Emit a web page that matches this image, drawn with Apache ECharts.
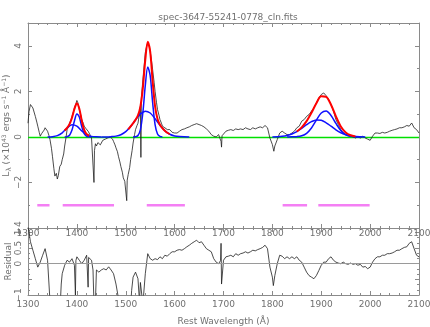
<!DOCTYPE html>
<html>
<head>
<meta charset="utf-8">
<script src="https://cdn.jsdelivr.net/npm/echarts@6/dist/echarts.min.js"></script>
<style>
  html, body { margin: 0; padding: 0; background: #fff; }
  #chart { width: 430px; height: 327px; }
</style>
</head>
<body>
<div id="chart"></div>
<script>
// spectrum (top panel)
const specWave = [1300,1302,1305,1308,1310,1313,1315,1318,1320,1323,1325,1328,1330,1333,1335,1338,1340,1343,1345,1348,
  1350,1353,1355,1358,1360,1362,1365,1368,1370,1373,1375,1378,1380,1383,1385,1388,1390,1393,1395,1398,
  1400,1402,1405,1408,1410,1413,1415,1418,1420,1423,1425,1428,1430,1433,1435,1436,1438,1440,1443,1445,
  1448,1450,1453,1455,1458,1460,1463,1465,1468,1470,1473,1475,1478,1480,1483,1485,1488,1490,1493,1495,
  1498,1500,1502,1503,1505,1508,1510,1513,1515,1518,1520,1523,1525,1528,1530,1531,1532,1535,1538,1540,
  1543,1545,1548,1550,1553,1555,1558,1560,1563,1565,1568,1570,1573,1575,1578,1580,1585,1590,1595,1600,
  1605,1610,1615,1620,1625,1630,1635,1640,1645,1650,1655,1660,1665,1670,1675,1680,1685,1690,1695,1696,
  1697,1700,1705,1710,1715,1720,1725,1730,1735,1740,1745,1750,1755,1760,1765,1770,1775,1780,1785,1790,
  1795,1800,1803,1805,1810,1815,1820,1825,1830,1835,1840,1845,1850,1855,1860,1865,1870,1875,1880,1885,
  1890,1895,1900,1905,1910,1915,1920,1925,1930,1935,1940,1945,1950,1955,1960,1965,1970,1975,1980,1985,
  1990,1995,2000,2005,2010,2015,2020,2025,2030,2035,2040,2045,2050,2055,2060,2065,2070,2075,2080,2085,
  2090,2095,2100];
const specFlux = [0.6,1.1,1.42,1.35,1.27,1.05,0.9,0.65,0.47,0.2,0.03,0.15,0.1,0.3,0.4,0.35,0.25,0.05,-0.12,-0.5,
  -0.85,-1.4,-1.72,-1.6,-1.85,-1.7,-1.3,-1.2,-1.0,-0.75,-0.4,0.0,0.32,0.45,0.6,0.75,0.9,1.1,1.27,1.45,
  1.6,1.5,1.2,0.95,0.76,0.6,0.47,0.38,0.3,0.25,0.17,0.05,-0.05,-0.1,-2.0,-0.6,-0.3,-0.4,-0.25,-0.27,
  -0.35,-0.3,-0.15,-0.2,-0.1,-0.12,-0.05,-0.08,0.0,-0.05,-0.1,-0.2,-0.35,-0.48,-0.65,-0.85,-1.1,-1.3,-1.55,-1.8,
  -1.95,-2.0,-2.8,-1.9,-1.65,-1.35,-1.0,-0.6,-0.27,0.1,0.32,0.5,0.6,1.0,1.35,-0.9,1.7,2.5,3.2,3.7,
  4.0,4.1,4.0,3.75,3.3,2.95,2.4,2.0,1.5,1.2,0.95,0.76,0.6,0.47,0.45,0.4,0.32,0.32,0.2,0.17,
  0.17,0.25,0.32,0.35,0.4,0.44,0.5,0.54,0.58,0.54,0.5,0.44,0.35,0.25,0.1,0.03,0.0,0.1,-0.2,-0.45,
  0.05,0.1,0.25,0.29,0.32,0.28,0.35,0.32,0.35,0.32,0.4,0.35,0.32,0.4,0.35,0.4,0.44,0.4,0.5,0.4,
  -0.05,-0.34,-0.63,-0.4,-0.12,0.17,0.25,0.17,0.1,0.1,0.17,0.25,0.4,0.47,0.69,0.76,0.9,0.98,1.13,1.27,
  1.49,1.71,1.86,1.93,1.81,1.64,1.42,1.13,0.76,0.54,0.32,0.17,0.1,0.06,0.03,0.0,-0.05,0.0,-0.05,0.03,
  -0.05,-0.1,-0.15,0.03,0.17,0.17,0.15,0.2,0.17,0.2,0.25,0.29,0.32,0.35,0.4,0.4,0.44,0.5,0.47,0.61,
  0.4,0.32,0.17];

// gaussian components (blue) and their sums (red)
const c1Wave = [1340,1350,1360,1370,1380,1390,1400,1410,1420,1430,1440,1450];
const c1Flux = [0.0,0.01,0.055,0.18,0.39,0.535,0.47,0.26,0.095,0.022,0.005,0.0];
const c2Wave = [1375,1380,1385,1390,1395,1400,1405,1410,1415,1420,1425,1430];
const c2Flux = [0.0,0.011,0.075,0.3,0.7,1.01,0.87,0.45,0.14,0.026,0.003,0.0];
const c3Wave = [1450,1460,1470,1480,1490,1500,1510,1520,1530,1540,1550,1560,1570,1580,1590,1600,1610,1620,1630];
const c3Flux = [0.0,0.0,0.01,0.033,0.096,0.23,0.455,0.745,1.01,1.13,1.05,0.8,0.51,0.27,0.117,0.042,0.013,0.003,0.0];
const c4Wave = [1515,1520,1525,1530,1535,1540,1545,1550,1555,1560,1565,1570,1575];
const c4Flux = [0.0,0.005,0.06,0.32,1.06,2.26,3.07,2.69,1.51,0.54,0.125,0.02,0.0];
const c5Wave = [1830,1840,1850,1860,1870,1880,1890,1900,1910,1920,1930,1940,1950,1960,1970,1980];
const c5Flux = [0.0,0.002,0.011,0.047,0.156,0.39,0.735,1.05,1.14,0.94,0.59,0.28,0.1,0.027,0.006,0.0];
const c6Wave = [1800,1810,1820,1830,1840,1850,1860,1870,1880,1890,1900,1910,1920,1930,1940,1950,1960,1970,1980,1990];
const c6Flux = [0.0,0.009,0.025,0.06,0.125,0.23,0.375,0.535,0.67,0.745,0.73,0.62,0.47,0.31,0.18,0.095,0.043,0.017,0.006,0.0];

const fit1Wave = [1375,1380,1385,1390,1395,1400,1405,1410,1415,1420,1425];
const fit1Flux = [0.28,0.4,0.56,0.84,1.23,1.48,1.24,0.71,0.305,0.12,0.05];
const fit2Wave = [1505,1510,1515,1520,1525,1530,1535,1540,1545,1550,1555,1560,1565,1570,1575,1580,1585,1590];
const fit2Flux = [0.33,0.46,0.6,0.75,0.95,1.33,2.15,3.39,4.18,3.74,2.45,1.34,0.79,0.53,0.38,0.27,0.18,0.12];
const fit3Wave = [1850,1860,1870,1880,1890,1900,1910,1920,1930,1940,1950,1960,1970];
const fit3Flux = [0.24,0.42,0.69,1.06,1.48,1.78,1.76,1.41,0.9,0.46,0.195,0.07,0.023];

// fitting windows (magenta), start / end wavelength
const winStart = [1319, 1371, 1543, 1821, 1894];
const winEnd = [1344, 1476, 1621, 1871, 1999];
const winLevel = -3;

// residual (bottom panel)
const resWave = [1300,1305,1310,1315,1320,1325,1330,1335,1340,1345,1350,1360,1366,1368,1370,1375,1380,1385,1390,1395,
  1397,1398,1400,1405,1410,1415,1420,1423,1424,1425,1430,1433,1435,1438,1440,1445,1450,1455,1460,1465,
  1470,1475,1480,1485,1490,1500,1510,1512,1515,1520,1525,1528,1530,1535,1540,1545,1550,1555,1560,1565,
  1570,1575,1580,1585,1590,1595,1600,1605,1610,1615,1620,1625,1630,1635,1640,1645,1650,1655,1660,1665,
  1670,1675,1680,1685,1690,1694,1695,1696,1700,1705,1710,1715,1720,1725,1730,1735,1740,1745,1750,1755,
  1760,1765,1770,1775,1780,1785,1790,1795,1800,1802,1805,1810,1815,1820,1825,1830,1835,1840,1845,1850,
  1855,1860,1865,1870,1875,1880,1885,1890,1895,1900,1905,1910,1915,1920,1925,1930,1935,1940,1945,1950,
  1955,1960,1965,1970,1975,1980,1985,1990,1995,2000,2005,2010,2015,2020,2025,2030,2035,2040,2045,2050,
  2055,2060,2065,2070,2075,2080,2085,2090,2095,2100];
const resFlux = [1.2,0.7,0.43,0.16,-0.11,0.05,0.27,0.48,0.11,-1.2,-1.6,-1.6,-1.3,-0.65,-0.32,-0.05,0.11,0.05,0.16,-0.05,
  -1.0,0.1,0.22,0.11,0.0,0.11,0.27,-0.75,0.2,0.16,0.11,-0.2,-1.3,-1.2,-0.2,-0.27,-0.2,-0.16,-0.2,-0.1,
  -0.2,-0.32,-0.65,-1.1,-1.5,-1.6,-1.4,-0.86,-0.43,-0.27,-0.48,-1.2,-0.6,-1.3,-0.32,0.32,0.16,0.11,0.16,0.13,
  0.22,0.16,0.27,0.24,0.32,0.38,0.38,0.43,0.45,0.43,0.48,0.54,0.59,0.65,0.7,0.75,0.67,0.7,0.59,0.48,
  0.43,0.38,0.16,0.05,0.0,0.1,0.65,-0.65,0.11,0.22,0.24,0.27,0.22,0.32,0.27,0.32,0.34,0.38,0.34,0.38,
  0.43,0.41,0.45,0.48,0.52,0.59,0.48,-0.11,-0.43,-0.7,-0.38,0.0,0.27,0.24,0.16,0.22,0.16,0.22,0.16,0.22,
  0.11,0.05,-0.11,-0.27,-0.38,-0.43,-0.48,-0.38,-0.22,-0.05,0.05,0.05,0.16,0.22,0.11,0.05,0.02,0.0,0.05,0.0,
  -0.02,0.02,-0.02,0.0,-0.05,-0.02,-0.11,-0.09,-0.16,-0.11,0.05,0.16,0.22,0.22,0.27,0.27,0.32,0.32,0.34,0.38,
  0.43,0.43,0.48,0.52,0.54,0.65,0.7,0.48,0.27,0.22];

const xTicks = { min: 1300, max: 2100, interval: 100 };

const axisGray = '#8a8a8a';
const textGray = '#707070';
const font = 'DejaVu Sans';

function pairs(xs, ys) {
  return xs.map((x, i) => [x, ys[i]]);
}
function minus(v) {
  return String(v).replace('-', '\u2212');
}

function makeX(grid, position, showLabel, margin, name) {
  return {
    type: 'value', gridIndex: grid, position: position,
    min: xTicks.min, max: xTicks.max, interval: xTicks.interval,
    axisLine: { show: true, onZero: false, lineStyle: { color: axisGray, width: 1 } },
    axisTick: { show: true, inside: true, length: 4, lineStyle: { color: axisGray } },
    minorTick: { show: true, splitNumber: 5, length: 2, lineStyle: { color: axisGray } },
    splitLine: { show: false },
    axisLabel: { show: showLabel, margin: margin, fontSize: 9, color: textGray, fontFamily: font,
      formatter: v => String(v) },
    name: name || '', nameLocation: 'middle', nameGap: 22, nameMoveOverlap: false,
    nameTextStyle: { fontSize: 9, color: textGray, fontFamily: font }
  };
}
function makeY(grid, position, showLabel, lim, extra) {
  return Object.assign({
    type: 'value', gridIndex: grid, position: position,
    min: lim[0], max: lim[1], interval: lim[2],
    axisLine: { show: true, onZero: false, lineStyle: { color: axisGray, width: 1 } },
    axisTick: { show: true, inside: true, length: 4, lineStyle: { color: axisGray } },
    minorTick: { show: true, splitNumber: lim[3], length: 2, lineStyle: { color: axisGray } },
    splitLine: { show: false },
    nameMoveOverlap: false,
    axisLabel: { show: showLabel, rotate: 90, margin: 5, fontSize: 9, color: textGray, fontFamily: font,
      showMinLabel: true, showMaxLabel: false, hideOverlap: false, formatter: minus }
  }, extra || {});
}

function lineSeries(xs, ys, color, width, xi, yi, z, smooth) {
  return {
    type: 'line', xAxisIndex: xi, yAxisIndex: yi, data: pairs(xs, ys),
    showSymbol: false, symbol: 'none', smooth: smooth ? 0.3 : false, z: z, silent: true,
    lineStyle: { color: color, width: width }
  };
}

const chart = echarts.init(document.getElementById('chart'), null, { renderer: 'canvas' });

const series = [];
// spectrum with zero line
const spec = lineSeries(specWave, specFlux, '#1e1e1e', 0.8, 0, 0, 3, false);
spec.markLine = {
  silent: true, symbol: 'none', label: { show: false },
  lineStyle: { color: '#00e000', width: 1.3, type: 'solid' },
  data: [{ yAxis: 0 }], z: 2
};
series.push(spec);
[[c1Wave, c1Flux], [c2Wave, c2Flux], [c3Wave, c3Flux], [c4Wave, c4Flux], [c5Wave, c5Flux], [c6Wave, c6Flux]]
  .forEach(c => series.push(lineSeries(c[0], c[1], '#1010ff', 1.5, 0, 0, 4, true)));
[[fit1Wave, fit1Flux], [fit2Wave, fit2Flux], [fit3Wave, fit3Flux]]
  .forEach(c => series.push(lineSeries(c[0], c[1], '#ff0000', 2, 0, 0, 5, true)));
winStart.forEach((s, i) => {
  series.push(lineSeries([s, winEnd[i]], [winLevel, winLevel], '#f47ff4', 2.5, 0, 0, 4, false));
});
// residual
const res = lineSeries(resWave, resFlux, '#1e1e1e', 0.8, 2, 2, 3, false);
res.markLine = {
  silent: true, symbol: 'none', label: { show: false },
  lineStyle: { color: '#9a9a9a', width: 1, type: 'solid' },
  data: [{ yAxis: 0 }]
};
series.push(res);

const option = {
  animation: false,
  backgroundColor: '#ffffff',
  title: {
    text: 'spec-3647-55241-0778_cln.fits',
    left: 223, top: 8, textAlign: 'center',
    textStyle: { fontSize: 9, fontWeight: 'normal', color: textGray, fontFamily: font }
  },
  grid: [
    { left: 28, right: 11, top: 23, height: 205, outerBoundsMode: 'none', containLabel: false },
    { left: 28, right: 11, top: 228, height: 67, outerBoundsMode: 'none', containLabel: false }
  ],
  xAxis: [
    makeX(0, 'bottom', true, 1),
    makeX(0, 'top', false, 1),
    makeX(1, 'bottom', true, 5, 'Rest Wavelength (\u00c5)'),
    makeX(1, 'top', false, 1)
  ],
  yAxis: [
    makeY(0, 'left', true, [-4, 5, 2, 2], {
      name: '{a|L}{b|\u03bb}{a| (\u00d710}{c|43}{a| ergs s}{c|\u22121}{a| \u00c5}{c|\u22121}{a|)}',
      nameLocation: 'middle', nameGap: 15,
      nameTextStyle: {
        color: textGray, fontFamily: font,
        rich: {
          a: { fontSize: 9, color: textGray, fontFamily: font, lineHeight: 12 },
          b: { fontSize: 7, color: textGray, fontFamily: font, lineHeight: 12, verticalAlign: 'bottom', padding: [4, 0, 0, 0] },
          c: { fontSize: 6, color: textGray, fontFamily: font, lineHeight: 12, verticalAlign: 'top', padding: [0, 0, 4, 0] }
        }
      }
    }),
    makeY(0, 'right', false, [-4, 5, 2, 2]),
    makeY(1, 'left', true, [-1, 1.14, 0.5, 3], {
      name: 'Residual', nameLocation: 'middle', nameGap: 15,
      nameTextStyle: { fontSize: 9, color: textGray, fontFamily: font }
    }),
    makeY(1, 'right', false, [-1, 1.14, 0.5, 3])
  ],
  series: series
};

chart.setOption(option);
</script>
</body>
</html>
